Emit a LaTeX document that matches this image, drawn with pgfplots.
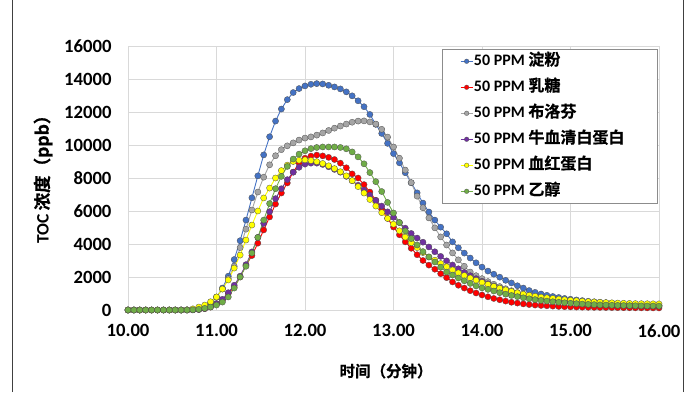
\documentclass[border=0pt]{standalone}
\usepackage{pgfplots}
\usepackage{pgfplotstable}
\pgfplotsset{compat=1.18}
\usepackage{fontspec}
\setmainfont{Carlito}
\newfontfamily\cjk{Noto Sans CJK SC}[BoldFont={Noto Sans CJK SC Bold}, BoldFeatures={FakeBold=0.6}]
\definecolor{cBlue}{HTML}{4472C4}
\definecolor{cRed}{HTML}{FF0000}
\definecolor{cGray}{HTML}{A5A5A5}
\definecolor{cPurple}{HTML}{7030A0}
\definecolor{cYellow}{HTML}{FFFF00}
\definecolor{cGreen}{HTML}{70AD47}

\pgfplotstableread{
t A B C D E F
10.000 0 0 0 0 0 0
10.067 0 0 0 0 0 0
10.133 0 0 0 0 0 0
10.200 0 0 0 0 0 0
10.267 0 0 0 0 0 0
10.333 0 0 0 0 0 0
10.400 0 0 0 0 0 0
10.467 0 0 0 0 0 0
10.533 0 0 0 0 0 0
10.600 0 0 0 0 0 0
10.667 5 0 5 0 10 0
10.733 20 10 15 10 70 10
10.800 60 30 50 30 180 40
10.867 180 80 150 90 300 100
10.933 420 180 380 200 500 180
11.000 790 360 760 380 790 300
11.067 1330 600 1270 650 1270 480
11.133 2050 1000 1900 1050 1820 790
11.200 3060 1390 2650 1500 2540 1330
11.267 4200 2000 3780 2050 3330 2000
11.333 5450 2700 4900 2750 4240 2650
11.400 6800 3300 6060 3520 5150 3450
11.467 8130 4050 7150 4400 6000 4400
11.533 9400 4850 8050 5250 6790 5450
11.600 10500 5640 8800 5960 7390 6450
11.667 11450 6420 9350 6750 8000 7350
11.733 12180 7090 9720 7350 8450 8100
11.800 12750 7700 9950 7900 8780 8700
11.867 13180 8360 10130 8350 9000 9150
11.933 13420 8900 10300 8650 9080 9450
12.000 13580 9200 10420 8840 9100 9650
12.067 13680 9330 10490 8900 9060 9780
12.133 13720 9390 10600 8900 8990 9850
12.200 13700 9340 10730 8820 8880 9880
12.267 13620 9250 10880 8680 8740 9880
12.333 13520 9120 11020 8520 8570 9880
12.400 13400 8900 11150 8350 8380 9850
12.467 13220 8620 11270 8100 8130 9770
12.533 12980 8250 11380 7840 7840 9580
12.600 12680 8000 11450 7560 7480 9280
12.667 12320 7600 11460 7270 7090 8860
12.733 11850 7150 11400 6960 6700 8330
12.800 11250 6650 11270 6640 6300 7780
12.867 10700 6100 10950 6300 5900 7180
12.933 10100 5550 10480 5950 5550 6520
13.000 9480 5030 9880 5620 5200 5880
13.067 8920 4560 9200 5300 4800 5300
13.133 8320 4130 8480 4960 4420 4790
13.200 7710 3740 7720 4640 4080 4330
13.267 7100 3350 6900 4360 3780 3940
13.333 6480 3000 6200 4110 3480 3540
13.400 5940 2720 5580 3820 3220 3210
13.467 5450 2470 4980 3530 3020 2910
13.533 5020 2200 4430 3250 2820 2600
13.600 4620 1960 3940 2980 2620 2300
13.667 4130 1700 3460 2730 2430 2120
13.733 3770 1500 3040 2500 2250 1940
13.800 3450 1330 2650 2280 2090 1770
13.867 3150 1170 2300 2080 1940 1610
13.933 2860 1030 2080 1900 1800 1460
14.000 2600 910 1900 1740 1670 1340
14.067 2360 800 1720 1590 1550 1250
14.133 2170 700 1560 1450 1430 1150
14.200 1990 620 1420 1320 1320 1050
14.267 1800 540 1290 1200 1220 960
14.333 1640 470 1170 1100 1130 880
14.400 1470 420 1060 1000 1040 810
14.467 1330 370 960 920 960 740
14.533 1180 330 870 840 890 680
14.600 1070 300 800 770 830 630
14.667 970 275 730 710 780 580
14.733 890 255 670 650 740 540
14.800 820 235 620 600 700 500
14.867 760 215 570 555 660 470
14.933 700 200 530 515 620 440
15.000 650 190 490 480 590 410
15.067 610 180 460 450 560 385
15.133 570 172 430 420 530 360
15.200 530 165 405 395 505 340
15.267 500 160 380 370 485 325
15.333 470 155 360 350 465 310
15.400 445 150 340 335 450 300
15.467 420 146 325 320 435 290
15.533 395 142 310 305 420 280
15.600 375 138 295 295 410 272
15.667 355 135 285 285 400 265
15.733 335 132 275 275 390 258
15.800 315 130 265 265 385 252
15.867 300 128 255 258 380 248
15.933 285 126 248 252 375 244
16.000 270 124 240 248 370 240
}\data

\begin{document}
\begin{tikzpicture}[x=1pt,y=1pt]
\useasboundingbox (0,0) rectangle (695,392);
\draw[black!75, line width=0.8pt] (12,0) -- (12,392);
\draw[black!75, line width=0.8pt] (683,0) -- (683,392);
\begin{axis}[
  at={(128pt,82pt)}, anchor=south west,
  scale only axis, width=531pt, height=264pt,
  xmin=10, xmax=16, ymin=0, ymax=16000,
  xtick={10,11,...,16}, ytick={0,2000,...,16000},
  grid=major,
  grid style={draw=black!15, line width=0.75pt},
  axis line style={draw=black!15, line width=0.75pt},
  major tick length=0pt,
  /pgf/number format/assume math mode=true,
  ticklabel style={font=\fontsize{18.7}{20}\selectfont\bfseries},
  yticklabel style={/pgf/number format/1000 sep={}, xshift=-13pt},
  xticklabel style={/pgf/number format/.cd, fixed, fixed zerofill, precision=2, /tikz/.cd, yshift=-11pt},
  scaled y ticks=false,
  xlabel={{\cjk\bfseries 时间（分钟）}},
  xlabel style={at={(axis description cs:0.486,0)}, anchor=center, yshift=-61pt, font=\fontsize{15.5}{17}\selectfont\bfseries},
  ylabel={\bfseries TOC {\cjk\bfseries 浓度（ppb）}},
  ylabel style={at={(axis description cs:-0.160,0.511)}, anchor=center, font=\fontsize{17.5}{19}\selectfont\bfseries},
  legend style={at={(axis description cs:0.591,0.989)}, anchor=north west,
    draw=black!45, line width=0.75pt, fill=white,
    font=\fontsize{16}{18}\selectfont\bfseries,
    inner xsep=0pt, inner ysep=5pt, row sep=12pt,
    nodes={text height=11pt, text depth=3pt, inner ysep=0pt, inner xsep=1pt}},
  legend cell align=left,
  legend image code/.code={
    \path (0pt,-1pt) (0pt,1pt);
    \draw[mark repeat=2, mark phase=2, line width=0.6pt, #1, mark size=2.3pt] plot coordinates {(18pt,0pt) (24pt,0pt) (30pt,0pt)};
  },
  every axis plot/.append style={line width=0.9pt, mark=*, mark size=3.1pt},
]
\addplot[color=cBlue, mark options={fill=cBlue, draw=black!70, line width=0.3pt}] table[x=t, y=A] {\data};
\addlegendentry{\makebox[182pt][l]{50 PPM {\cjk\bfseries 淀粉}}}
\addplot[color=cRed, mark options={fill=cRed, draw=black!70, line width=0.3pt}] table[x=t, y=B] {\data};
\addlegendentry{50 PPM {\cjk\bfseries 乳糖}}
\addplot[color=cGray, mark options={fill=cGray, draw=black!70, line width=0.3pt}] table[x=t, y=C] {\data};
\addlegendentry{50 PPM {\cjk\bfseries 布洛芬}}
\addplot[color=cPurple, mark options={fill=cPurple, draw=black!70, line width=0.3pt}] table[x=t, y=D] {\data};
\addlegendentry{50 PPM {\cjk\bfseries 牛血清白蛋白}}
\addplot[color=cYellow, mark options={fill=cYellow, draw=black!70, line width=0.3pt}] table[x=t, y=E] {\data};
\addlegendentry{50 PPM {\cjk\bfseries 血红蛋白}}
\addplot[color=cGreen, mark options={fill=cGreen, draw=black!70, line width=0.3pt}] table[x=t, y=F] {\data};
\addlegendentry{50 PPM {\cjk\bfseries 乙醇}}
\end{axis}
\end{tikzpicture}
\end{document}
